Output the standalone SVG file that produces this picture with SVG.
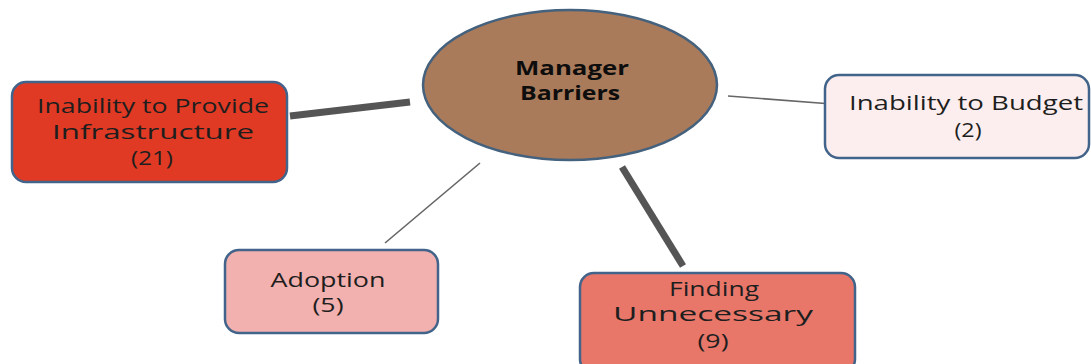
<svg xmlns="http://www.w3.org/2000/svg" width="1091" height="364" viewBox="0 0 1091 364">
  <style>
    .box { stroke: #42648A; stroke-width: 2.5; }
    .lbl { font-family: "Open Sans", "Noto Sans", "DejaVu Sans", sans-serif; font-size: 20px; fill: #1e1e1e; text-anchor: middle; }
    .hub { font-family: "Open Sans", "Noto Sans", "DejaVu Sans", sans-serif; font-size: 20px; font-weight: bold; fill: #0d0d0d; text-anchor: middle; }
    .thick { stroke: #555; stroke-width: 7; stroke-linecap: butt; }
    .thin { stroke: #666; stroke-width: 1.6; }
  </style>
  <rect width="1091" height="364" fill="#ffffff"/>

  <!-- connectors between the hub and each barrier -->
  <g id="connectors">
    <line class="thick" x1="290" y1="116" x2="410" y2="102"/>
    <line class="thin" x1="728" y1="96" x2="832" y2="104"/>
    <line class="thin" x1="480" y1="163" x2="385" y2="243"/>
    <line class="thick" x1="622" y1="167" x2="683" y2="266"/>
  </g>

  <!-- central hub -->
  <g id="node-manager-barriers">
    <ellipse cx="570" cy="85" rx="147" ry="75" fill="#A97B5B" stroke="#44617D" stroke-width="2.5"/>
    <text class="hub" x="572" y="75" textLength="114" lengthAdjust="spacingAndGlyphs">Manager</text>
    <text class="hub" x="570" y="100" textLength="100" lengthAdjust="spacingAndGlyphs">Barriers</text>
  </g>

  <g id="node-infrastructure">
    <rect class="box" x="12" y="82" width="275" height="100" rx="14" fill="#E03A24"/>
    <text class="lbl" x="153" y="113" textLength="232" lengthAdjust="spacingAndGlyphs">Inability to Provide</text>
    <text class="lbl" x="153" y="139" textLength="202" lengthAdjust="spacingAndGlyphs">Infrastructure</text>
    <text class="lbl" x="152" y="165" textLength="42" lengthAdjust="spacingAndGlyphs">(21)</text>
  </g>

  <g id="node-budget">
    <rect class="box" x="825" y="75" width="264" height="83" rx="14" fill="#FCEEEE"/>
    <text class="lbl" x="966" y="110" textLength="234" lengthAdjust="spacingAndGlyphs">Inability to Budget</text>
    <text class="lbl" x="968" y="137" textLength="27" lengthAdjust="spacingAndGlyphs">(2)</text>
  </g>

  <g id="node-adoption">
    <rect class="box" x="225" y="250" width="213" height="83" rx="14" fill="#F2B0AE"/>
    <text class="lbl" x="328" y="287" textLength="115" lengthAdjust="spacingAndGlyphs">Adoption</text>
    <text class="lbl" x="328" y="312" textLength="31" lengthAdjust="spacingAndGlyphs">(5)</text>
  </g>

  <g id="node-unnecessary">
    <rect class="box" x="580" y="273" width="275" height="100" rx="14" fill="#E8776A"/>
    <text class="lbl" x="714" y="296" textLength="90" lengthAdjust="spacingAndGlyphs">Finding</text>
    <text class="lbl" x="713" y="321" textLength="200" lengthAdjust="spacingAndGlyphs">Unnecessary</text>
    <text class="lbl" x="713" y="348" textLength="31" lengthAdjust="spacingAndGlyphs">(9)</text>
  </g>
</svg>
